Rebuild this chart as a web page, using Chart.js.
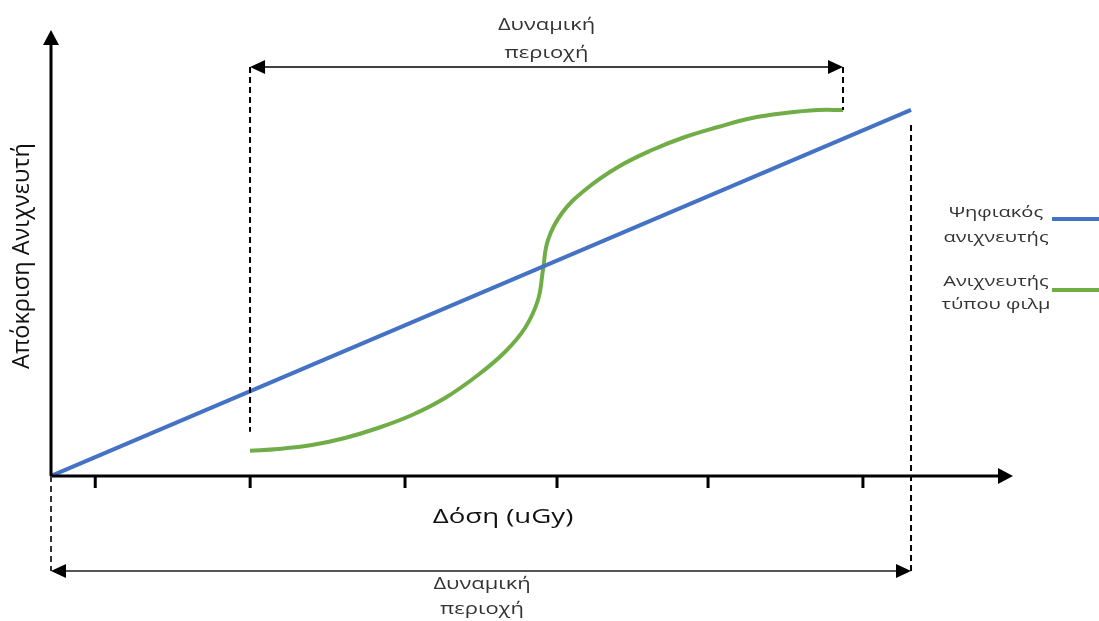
<!DOCTYPE html>
<html><head><meta charset="utf-8">
<script src="https://cdn.jsdelivr.net/npm/chart.js@4"></script>
<style>html,body{margin:0;padding:0;background:#fff}#wrap{width:1099px;height:621px;position:relative}</style>
</head><body><div id="wrap"><canvas id="c" width="1099" height="621"></canvas></div>
<script>
// Data (dose units on x, detector response on y, both 0..100 scale)
const digitalX = [0, 89.4];
const digitalY = [0, 82.1];
const filmX = [20.69, 23.60, 27.13, 30.56, 33.99, 37.53, 40.96, 44.39, 47.19, 49.27, 50.62, 51.14, 51.66, 53.12, 55.51, 58.94, 62.47, 65.90, 69.33, 72.87, 76.30, 79.73, 82.33];
const filmY = [5.67, 6.05, 6.95, 8.52, 10.76, 13.68, 17.49, 22.65, 27.80, 33.18, 39.46, 46.19, 52.91, 58.97, 64.13, 69.28, 73.09, 76.01, 78.25, 80.27, 81.39, 82.06, 82.06];
const xTicks = [4.6, 20.7, 36.8, 52.6, 68.3, 84.4];
const seriesNames = [["Ψηφιακός", "ανιχνευτής"], ["Ανιχνευτής", "τύπου φιλμ"]];
const xTitle = "Δόση (uGy)";
const yTitle = "Απόκριση Ανιχνευτή";
const rangeLabel = ["Δυναμική", "περιοχή"];

const BLUE = "#4472C4", GREEN = "#70AD47";
const FONT = "'Open Sans', 'Noto Sans', sans-serif";

function arrowHead(ctx, x, y, dir, len, half) {
  ctx.beginPath();
  if (dir === 'up') { ctx.moveTo(x, y); ctx.lineTo(x - half, y + len); ctx.lineTo(x + half, y + len); }
  if (dir === 'right') { ctx.moveTo(x, y); ctx.lineTo(x - len, y - half); ctx.lineTo(x - len, y + half); }
  if (dir === 'left') { ctx.moveTo(x, y); ctx.lineTo(x + len, y - half); ctx.lineTo(x + len, y + half); }
  ctx.closePath(); ctx.fill();
}
function line(ctx, x1, y1, x2, y2, w, color, dash) {
  ctx.save(); ctx.beginPath(); ctx.lineWidth = w; ctx.strokeStyle = color; ctx.setLineDash(dash || []);
  ctx.moveTo(x1, y1); ctx.lineTo(x2, y2); ctx.stroke(); ctx.restore();
}
function sText(ctx, text, x, y, sx) {
  ctx.save(); ctx.translate(x, y); ctx.scale(sx, 1); ctx.fillText(text, 0, 0); ctx.restore();
}

const decor = {
  id: 'decor',
  afterDatasetsDraw(chart) {
    const ctx = chart.ctx, xs = chart.scales.x, ys = chart.scales.y;
    const X = v => xs.getPixelForValue(v), Y = v => ys.getPixelForValue(v);
    const ca = chart.chartArea;
    ctx.save();
    ctx.fillStyle = '#000';
    // axes
    line(ctx, X(0), Y(0), X(0), ca.top + 12, 3, '#000');
    arrowHead(ctx, X(0), ca.top, 'up', 15, 8);
    line(ctx, X(0), Y(0), ca.right - 12, Y(0), 3, '#000');
    arrowHead(ctx, ca.right, Y(0), 'right', 15, 8);
    // ticks
    xTicks.forEach(t => line(ctx, X(t), Y(0), X(t), Y(0) + 12, 3, '#000'));
    // dashed guides
    const dash = [6, 4];
    const fx0 = filmX[0], fx1 = filmX[filmX.length - 1];
    const dx1 = digitalX[digitalX.length - 1];
    const topY = Y(91.7), botY = Y(-21.3);
    line(ctx, X(fx0), topY, X(fx0), Y(9.9), 2, '#000', dash);
    line(ctx, X(fx1), topY, X(fx1), Y(filmY[filmY.length - 1]), 2, '#000', dash);
    line(ctx, X(dx1), Y(78.7), X(dx1), botY, 2, '#000', dash);
    line(ctx, X(0), Y(0), X(0), botY, 2, '#333', dash);
    // dimension arrows
    ctx.fillStyle = '#000';
    line(ctx, X(fx0) + 8, topY, X(fx1) - 8, topY, 1.5, '#000');
    arrowHead(ctx, X(fx0), topY, 'left', 15, 7);
    arrowHead(ctx, X(fx1), topY, 'right', 15, 7);
    line(ctx, X(0) + 8, botY, X(dx1) - 8, botY, 2, '#555');
    arrowHead(ctx, X(0), botY, 'left', 15, 7);
    arrowHead(ctx, X(dx1), botY, 'right', 15, 7);
    // texts
    ctx.fillStyle = '#333'; ctx.textAlign = 'center'; ctx.textBaseline = 'middle';
    ctx.font = "16px " + FONT;
    const tcx = (X(fx0) + X(fx1)) / 2;
    sText(ctx, rangeLabel[0], tcx, 25, 1.37); sText(ctx, rangeLabel[1], tcx, 53, 1.37);
    const bcx = (X(0) + X(dx1)) / 2 + 1;
    sText(ctx, rangeLabel[0], bcx, 584, 1.37); sText(ctx, rangeLabel[1], bcx, 609, 1.37);
    ctx.fillStyle = '#111';
    ctx.font = "20px " + FONT;
    sText(ctx, xTitle, 503, 517, 1.38);
    ctx.font = "23.5px " + FONT;
    ctx.save(); ctx.translate(22, 256); ctx.rotate(-Math.PI / 2); ctx.fillText(yTitle, 0, 0); ctx.restore();
    // legend
    ctx.fillStyle = '#333'; ctx.font = "15px " + FONT;
    sText(ctx, seriesNames[0][0], 996, 213, 1.34); sText(ctx, seriesNames[0][1], 996, 238, 1.34);
    sText(ctx, seriesNames[1][0], 996, 282, 1.34); sText(ctx, seriesNames[1][1], 996, 305, 1.34);
    line(ctx, 1052, 219, 1099, 219, 4, BLUE);
    line(ctx, 1052, 290, 1099, 290, 4, GREEN);
    ctx.restore();
  }
};

new Chart(document.getElementById('c'), {
  type: 'scatter',
  data: {
    datasets: [
      { label: seriesNames[0].join(' '), data: digitalX.map((x, i) => ({ x, y: digitalY[i] })),
        showLine: true, borderColor: BLUE, borderWidth: 4, pointRadius: 0 },
      { label: seriesNames[1].join(' '), data: filmX.map((x, i) => ({ x, y: filmY[i] })),
        showLine: true, borderColor: GREEN, borderWidth: 4, pointRadius: 0, tension: 0.4 }
    ]
  },
  options: {
    responsive: false, animation: false, devicePixelRatio: 1,
    layout: { padding: { left: 51, right: 86, top: 30, bottom: 145 } },
    plugins: { legend: { display: false }, tooltip: { enabled: false } },
    scales: {
      x: { type: 'linear', min: 0, max: 100, display: false },
      y: { type: 'linear', min: 0, max: 100, display: false }
    }
  },
  plugins: [decor]
});
</script></body></html>
